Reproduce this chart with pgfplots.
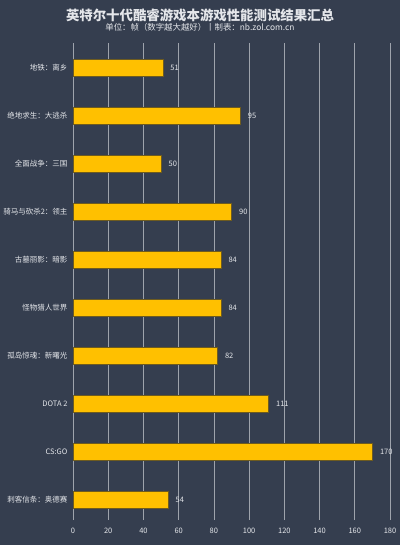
\documentclass[border=0pt]{standalone}
\usepackage{fontspec}
\setmainfont{Noto Sans CJK SC}
\usepackage{pgfplots}
\pgfplotsset{compat=1.18}
\definecolor{bg}{HTML}{353E4F}
\definecolor{bar}{HTML}{FFC000}
\definecolor{barline}{HTML}{6E5B1E}
\definecolor{gridc}{HTML}{9EA3AC}
\definecolor{txt}{HTML}{E4E6EA}
\begin{document}
\begin{tikzpicture}
\useasboundingbox (0,0) rectangle (400pt,545pt);
\fill[bg] (0,0) rectangle (400pt,545pt);
\node[txt, font=\fontsize{13.4}{15}\selectfont\bfseries] at (200pt,530pt) {英特尔十代酷睿游戏本游戏性能测试结果汇总};
\node[txt, font=\fontsize{8.4}{10}\selectfont] at (200pt,518pt) {单位：帧（数字越大越好）丨制表：nb.zol.com.cn};
\begin{axis}[
    at={(73pt,25pt)}, anchor=south west,
    scale only axis,
    width=317pt, height=477pt,
    xbar, bar width=17pt,
    xmin=0, xmax=180,
    ymin=-0.52, ymax=9.42,
    y dir=reverse,
    xtick={0,20,...,180},
    ytick={0,...,9},
    yticklabels={地铁：离乡, 绝地求生：大逃杀, 全面战争：三国, 骑马与砍杀2：领主, 古墓丽影：暗影, 怪物猎人世界, 孤岛惊魂：新曙光, DOTA 2, CS:GO, 刺客信条：奥德赛},
    axis line style={draw=none},
    major tick length=0pt,
    xmajorgrids, grid style={gridc, line width=0.6pt},
    ymajorgrids=false,
    tick label style={txt, font=\fontsize{7.5}{9}\selectfont},
    /pgf/number format/assume math mode=true,
    xticklabel style={yshift=-5pt},
    yticklabel style={xshift=-2pt},
    nodes near coords,
    every node near coord/.style={anchor=west, txt, font=\fontsize{7.5}{9}\selectfont, xshift=4pt},
    point meta=explicit symbolic,
]
\addplot[fill=bar, draw=barline, line width=0.6pt] coordinates {
    (51,0) [51]
    (95,1) [95]
    (50,2) [50]
    (90,3) [90]
    (84,4) [84]
    (84,5) [84]
    (82,6) [82]
    (111,7) [111]
    (170,8) [170]
    (54,9) [54]
};
\end{axis}
\end{tikzpicture}
\end{document}
